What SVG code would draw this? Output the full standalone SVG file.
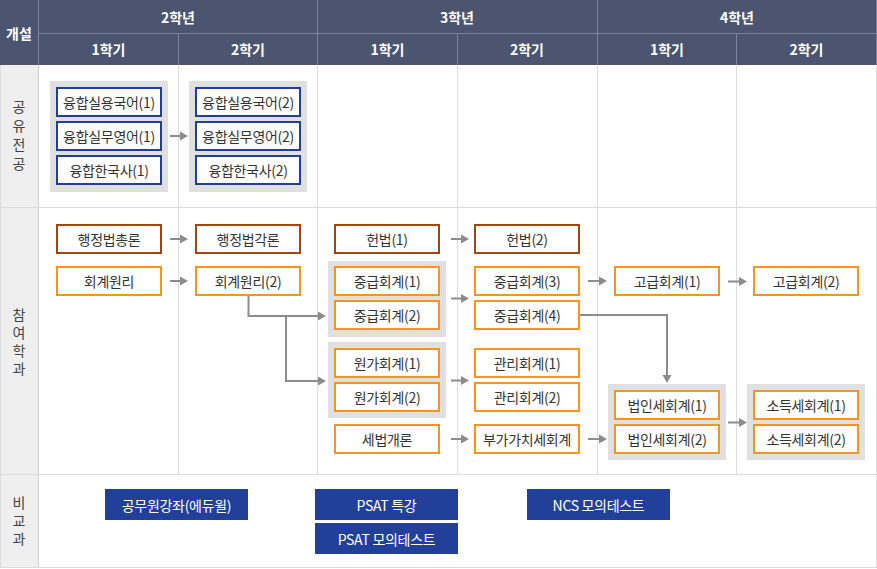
<svg xmlns="http://www.w3.org/2000/svg" width="877" height="569" viewBox="0 0 877 569">
<style>
text{font-family:"Noto Sans CJK KR","Noto Sans",sans-serif;}
.hd{fill:#4b5570;}
.hl{stroke:#7b849c;stroke-width:1;}
.gl{stroke:#dcdcdc;stroke-width:1;fill:none;}
.ht{fill:#fff;font-size:14px;font-weight:bold;text-anchor:middle;dominant-baseline:central;}
.lt{fill:#444;font-size:14px;text-anchor:middle;writing-mode:vertical-rl;}
.grp{fill:#e0e0e0;}
.bx{fill:#fff;stroke-width:2;}
.nv{stroke:#213f96;}
.br{stroke:#9e4713;}
.or{stroke:#f7941d;}
.bt{fill:#333;font-size:14px;text-anchor:middle;dominant-baseline:central;letter-spacing:-0.3px;}
.sb{fill:#22409a;}
.st{fill:#fff;font-size:14px;text-anchor:middle;dominant-baseline:central;letter-spacing:-0.3px;}
.cn{stroke:#8c8c8c;stroke-width:2;fill:none;marker-end:url(#ah);}
</style>
<defs>
<marker id="ah" markerUnits="userSpaceOnUse" markerWidth="9" markerHeight="10" refX="0" refY="5" orient="auto">
<path d="M0,0.5 L8,5 L0,9.5 Z" fill="#8c8c8c"/>
</marker>
</defs>

<g id="grid">
<rect x="0" y="0" width="877" height="569" fill="#fff"/>
<rect x="0" y="65" width="39" height="503" fill="#efefef"/>
<line class="gl" x1="0.5" y1="65" x2="0.5" y2="568"/>
<line class="gl" x1="38.5" y1="65" x2="38.5" y2="568" style="stroke:#cfcfcf"/>
<line class="gl" x1="178.5" y1="65" x2="178.5" y2="475"/>
<line class="gl" x1="317.5" y1="65" x2="317.5" y2="475"/>
<line class="gl" x1="457.5" y1="65" x2="457.5" y2="475"/>
<line class="gl" x1="597.5" y1="65" x2="597.5" y2="475"/>
<line class="gl" x1="736.5" y1="65" x2="736.5" y2="475"/>
<line class="gl" x1="876.5" y1="65" x2="876.5" y2="568"/>
<line class="gl" x1="0" y1="207.5" x2="877" y2="207.5"/>
<line class="gl" x1="0" y1="474.5" x2="877" y2="474.5"/>
<line class="gl" x1="0" y1="567.5" x2="877" y2="567.5"/>
</g>

<g id="header">
<rect class="hd" x="0" y="0" width="877" height="65"/>
<line class="hl" x1="38.5" y1="0" x2="38.5" y2="65"/>
<line class="hl" x1="39" y1="33.5" x2="877" y2="33.5"/>
<line class="hl" x1="178.5" y1="33" x2="178.5" y2="65"/>
<line class="hl" x1="317.5" y1="0" x2="317.5" y2="65"/>
<line class="hl" x1="457.5" y1="33" x2="457.5" y2="65"/>
<line class="hl" x1="597.5" y1="0" x2="597.5" y2="65"/>
<line class="hl" x1="736.5" y1="33" x2="736.5" y2="65"/>
<line class="hl" x1="876.5" y1="0" x2="876.5" y2="65"/>
<text class="ht" x="19" y="33">개설</text>
<text class="ht" x="178" y="17">2학년</text>
<text class="ht" x="457" y="17">3학년</text>
<text class="ht" x="737" y="17">4학년</text>
<text class="ht" x="108.5" y="49">1학기</text>
<text class="ht" x="248" y="49">2학기</text>
<text class="ht" x="387.5" y="49">1학기</text>
<text class="ht" x="527" y="49">2학기</text>
<text class="ht" x="667" y="49">1학기</text>
<text class="ht" x="806.5" y="49">2학기</text>
</g>

<g id="row-labels">
<text class="lt" x="19" y="138" style="letter-spacing:5px">공유전공</text>
<text class="lt" x="19" y="344" style="letter-spacing:4px">참여학과</text>
<text class="lt" x="19" y="523" style="letter-spacing:4px">비교과</text>
</g>

<g id="groups">
<rect class="grp" x="50" y="81" width="118" height="111"/>
<rect class="grp" x="189" y="81" width="118" height="111"/>
<rect class="grp" x="328" y="261" width="118" height="76"/>
<rect class="grp" x="328" y="342" width="118" height="76"/>
<rect class="grp" x="608" y="384" width="118" height="76"/>
<rect class="grp" x="747" y="384" width="118" height="76"/>
</g>

<g id="n-kor1"><rect class="bx nv" x="57" y="88" width="104" height="28"/><text class="bt" x="109" y="102">융합실용국어(1)</text></g>
<g id="n-eng1"><rect class="bx nv" x="57" y="122" width="104" height="28"/><text class="bt" x="109" y="136">융합실무영어(1)</text></g>
<g id="n-his1"><rect class="bx nv" x="57" y="156" width="104" height="28"/><text class="bt" x="109" y="170">융합한국사(1)</text></g>
<g id="n-kor2"><rect class="bx nv" x="196" y="88" width="104" height="28"/><text class="bt" x="248" y="102">융합실용국어(2)</text></g>
<g id="n-eng2"><rect class="bx nv" x="196" y="122" width="104" height="28"/><text class="bt" x="248" y="136">융합실무영어(2)</text></g>
<g id="n-his2"><rect class="bx nv" x="196" y="156" width="104" height="28"/><text class="bt" x="248" y="170">융합한국사(2)</text></g>

<g id="n-admin1"><rect class="bx br" x="57" y="225" width="104" height="28"/><text class="bt" x="109" y="239">행정법총론</text></g>
<g id="n-acct1"><rect class="bx or" x="57" y="267" width="104" height="28"/><text class="bt" x="109" y="281">회계원리</text></g>
<g id="n-admin2"><rect class="bx br" x="196" y="225" width="104" height="28"/><text class="bt" x="248" y="239">행정법각론</text></g>
<g id="n-acct2"><rect class="bx or" x="196" y="267" width="104" height="28"/><text class="bt" x="248" y="281">회계원리(2)</text></g>

<g id="n-const1"><rect class="bx br" x="335" y="225" width="104" height="28"/><text class="bt" x="387" y="239">헌법(1)</text></g>
<g id="n-mid1"><rect class="bx or" x="335" y="267" width="104" height="28"/><text class="bt" x="387" y="281">중급회계(1)</text></g>
<g id="n-mid2"><rect class="bx or" x="335" y="301" width="104" height="28"/><text class="bt" x="387" y="315">중급회계(2)</text></g>
<g id="n-cost1"><rect class="bx or" x="335" y="349" width="104" height="28"/><text class="bt" x="387" y="363">원가회계(1)</text></g>
<g id="n-cost2"><rect class="bx or" x="335" y="383" width="104" height="28"/><text class="bt" x="387" y="397">원가회계(2)</text></g>
<g id="n-tax"><rect class="bx or" x="335" y="425" width="104" height="28"/><text class="bt" x="387" y="439">세법개론</text></g>

<g id="n-const2"><rect class="bx br" x="475" y="225" width="104" height="28"/><text class="bt" x="527" y="239">헌법(2)</text></g>
<g id="n-mid3"><rect class="bx or" x="475" y="267" width="104" height="28"/><text class="bt" x="527" y="281">중급회계(3)</text></g>
<g id="n-mid4"><rect class="bx or" x="475" y="301" width="104" height="28"/><text class="bt" x="527" y="315">중급회계(4)</text></g>
<g id="n-mgmt1"><rect class="bx or" x="475" y="349" width="104" height="28"/><text class="bt" x="527" y="363">관리회계(1)</text></g>
<g id="n-mgmt2"><rect class="bx or" x="475" y="383" width="104" height="28"/><text class="bt" x="527" y="397">관리회계(2)</text></g>
<g id="n-vat"><rect class="bx or" x="475" y="425" width="104" height="28"/><text class="bt" x="527" y="439">부가가치세회계</text></g>

<g id="n-adv1"><rect class="bx or" x="615" y="267" width="104" height="28"/><text class="bt" x="667" y="281">고급회계(1)</text></g>
<g id="n-corp1"><rect class="bx or" x="615" y="391" width="104" height="28"/><text class="bt" x="667" y="405">법인세회계(1)</text></g>
<g id="n-corp2"><rect class="bx or" x="615" y="425" width="104" height="28"/><text class="bt" x="667" y="439">법인세회계(2)</text></g>
<g id="n-adv2"><rect class="bx or" x="754" y="267" width="104" height="28"/><text class="bt" x="806" y="281">고급회계(2)</text></g>
<g id="n-inc1"><rect class="bx or" x="754" y="391" width="104" height="28"/><text class="bt" x="806" y="405">소득세회계(1)</text></g>
<g id="n-inc2"><rect class="bx or" x="754" y="425" width="104" height="28"/><text class="bt" x="806" y="439">소득세회계(2)</text></g>

<g id="n-civil"><rect class="sb" x="105" y="489" width="143" height="31"/><text class="st" x="176.5" y="504.5">공무원강좌(에듀윌)</text></g>
<g id="n-psat1"><rect class="sb" x="315" y="489" width="143" height="31"/><text class="st" x="386.5" y="504.5">PSAT 특강</text></g>
<g id="n-psat2"><rect class="sb" x="315" y="523" width="143" height="31"/><text class="st" x="386.5" y="538.5">PSAT 모의테스트</text></g>
<g id="n-ncs"><rect class="sb" x="527" y="489" width="143" height="31"/><text class="st" x="598.5" y="504.5">NCS 모의테스트</text></g>

<g id="connectors">
<path class="cn" d="M170,136 H180"/>
<path class="cn" d="M170,239 H180"/>
<path class="cn" d="M170,281 H180"/>
<path class="cn" d="M248.5,296 V316 H318"/>
<path class="cn" d="M286,316 V381 H318"/>
<path class="cn" d="M451,239 H461"/>
<path class="cn" d="M451,298.5 H461"/>
<path class="cn" d="M451,380.5 H461"/>
<path class="cn" d="M451,439 H461"/>
<path class="cn" d="M588,281 H599"/>
<path class="cn" d="M580,315 H667 V375"/>
<path class="cn" d="M588,439 H599"/>
<path class="cn" d="M728,281.5 H739"/>
<path class="cn" d="M728,422.5 H739"/>
</g>
</svg>
